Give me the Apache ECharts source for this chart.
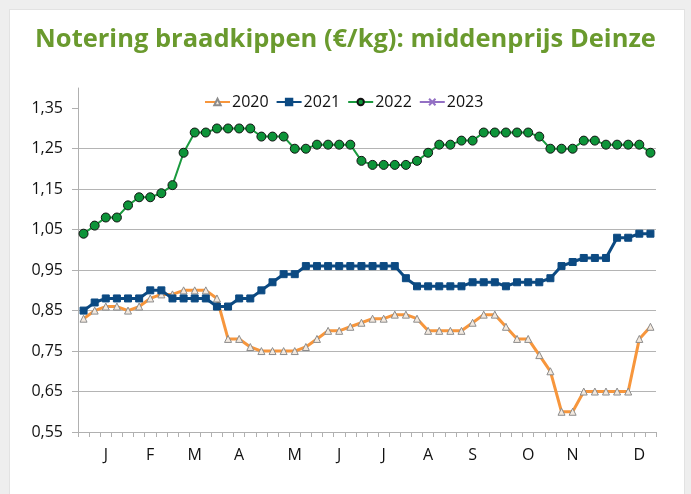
<!DOCTYPE html>
<html>
<head>
<meta charset="utf-8">
<script src="https://cdn.jsdelivr.net/npm/echarts@6/dist/echarts.min.js"></script>
<style>
  html, body { margin: 0; padding: 0; background: #eeeeee; width: 691px; height: 494px; overflow: hidden; }
  #frame { position: absolute; left: 9px; top: 9px; width: 674px; height: 500px; background: #ffffff; border: 1px solid #e2e2e2; }
  #chart { position: absolute; left: 0; top: 0; width: 691px; height: 494px; }
</style>
</head>
<body>
<div id="frame"></div>
<div id="chart"></div>
<script>
// Week categories (52 weeks); month letters at the weeks where the reference shows them
const monthLabels = { 2: 'J', 6: 'F', 10: 'M', 14: 'A', 19: 'M', 23: 'J', 27: 'J', 31: 'A', 35: 'S', 40: 'O', 44: 'N', 50: 'D' };
const weeks = [];
for (let i = 0; i < 52; i++) weeks.push(monthLabels[i] || '');

const yTicks = [0.55, 0.65, 0.75, 0.85, 0.95, 1.05, 1.15, 1.25, 1.35];

const s2020 = [0.83,0.85,0.86,0.86,0.85,0.86,0.88,0.89,0.89,0.90,0.90,0.90,0.88,0.78,0.78,0.76,0.75,0.75,0.75,0.75,0.76,0.78,0.80,0.80,0.81,0.82,
               0.83,0.83,0.84,0.84,0.83,0.80,0.80,0.80,0.80,0.82,0.84,0.84,0.81,0.78,0.78,0.74,0.70,0.60,0.60,0.65,0.65,0.65,0.65,0.65,0.78,0.81];
const s2021 = [0.85,0.87,0.88,0.88,0.88,0.88,0.90,0.90,0.88,0.88,0.88,0.88,0.86,0.86,0.88,0.88,0.90,0.92,0.94,0.94,0.96,0.96,0.96,0.96,0.96,0.96,
               0.96,0.96,0.96,0.93,0.91,0.91,0.91,0.91,0.91,0.92,0.92,0.92,0.91,0.92,0.92,0.92,0.93,0.96,0.97,0.98,0.98,0.98,1.03,1.03,1.04,1.04];
const s2022 = [1.04,1.06,1.08,1.08,1.11,1.13,1.13,1.14,1.16,1.24,1.29,1.29,1.30,1.30,1.30,1.30,1.28,1.28,1.28,1.25,1.25,1.26,1.26,1.26,1.26,1.22,
               1.21,1.21,1.21,1.21,1.22,1.24,1.26,1.26,1.27,1.27,1.29,1.29,1.29,1.29,1.29,1.28,1.25,1.25,1.25,1.27,1.27,1.26,1.26,1.26,1.26,1.24];
const s2023 = [];

const chart = echarts.init(document.getElementById('chart'), null, { renderer: 'canvas' });
const font = '"Open Sans", "Liberation Sans", sans-serif';
const xPath = 'path://M0,0 L10,10 M10,0 L0,10';

chart.setOption({
  animation: false,
  backgroundColor: 'transparent',
  title: {
    text: 'Notering braadkippen (€/kg): middenprijs Deinze',
    left: 'center',
    top: 22,
    textStyle: { color: '#6a9a2e', fontFamily: font, fontWeight: 'bold', fontSize: 25.5 }
  },
  legend: {
    left: 199,
    top: 89,
    itemWidth: 25,
    itemHeight: 8,
    itemGap: 7,
    textStyle: { fontFamily: font, fontSize: 16, color: '#111', padding: [0, 0, 0, -3] },
    data: ['2020', '2021', '2022', '2023']
  },
  grid: { left: 78, right: 35, top: 88, bottom: 62, containLabel: false },
  xAxis: {
    type: 'category',
    data: weeks,
    boundaryGap: true,
    axisLine: { lineStyle: { color: '#b0b0b0', width: 1 } },
    axisTick: { show: true, interval: 0, length: 5, lineStyle: { color: '#b0b0b0' } },
    axisLabel: { interval: 0, margin: 15, fontFamily: font, fontSize: 16, color: '#111' },
    splitLine: { show: false }
  },
  yAxis: {
    type: 'value',
    min: 0.55,
    max: 1.40,
    interval: 0.1,
    axisLine: { show: true, lineStyle: { color: '#b0b0b0', width: 1 } },
    axisTick: { show: true, length: 6, inside: false, customValues: yTicks, lineStyle: { color: '#b0b0b0' } },
    axisLabel: {
      customValues: yTicks,
      margin: 15,
      fontFamily: font, fontSize: 16, color: '#111',
      formatter: v => v.toFixed(2).replace('.', ',')
    },
    splitLine: { show: true, showMaxLine: false, lineStyle: { color: '#b4b4b4', width: 1 } }
  },
  series: [
    {
      name: '2020', type: 'line', data: s2020,
      symbol: 'triangle', symbolSize: 7,
      lineStyle: { color: '#f7963c', width: 3 },
      itemStyle: { color: '#f3e9df', borderColor: '#8c8c8c', borderWidth: 1 }
    },
    {
      name: '2021', type: 'line', data: s2021,
      symbol: 'rect', symbolSize: 7,
      lineStyle: { color: '#0c4a82', width: 3 },
      itemStyle: { color: '#0c4a82', borderColor: '#0c4a82', borderWidth: 1 }
    },
    {
      name: '2022', type: 'line', data: s2022,
      symbol: 'circle', symbolSize: 9,
      lineStyle: { color: '#1a9a3e', width: 2 },
      itemStyle: { color: '#0d9439', borderColor: '#111', borderWidth: 1 }
    },
    {
      name: '2023', type: 'line', data: s2023,
      symbol: xPath, symbolSize: 7,
      lineStyle: { color: '#9370c4', width: 2 },
      itemStyle: { color: '#9370c4', borderColor: '#9370c4', borderWidth: 1 }
    }
  ]
});
</script>
</body>
</html>
